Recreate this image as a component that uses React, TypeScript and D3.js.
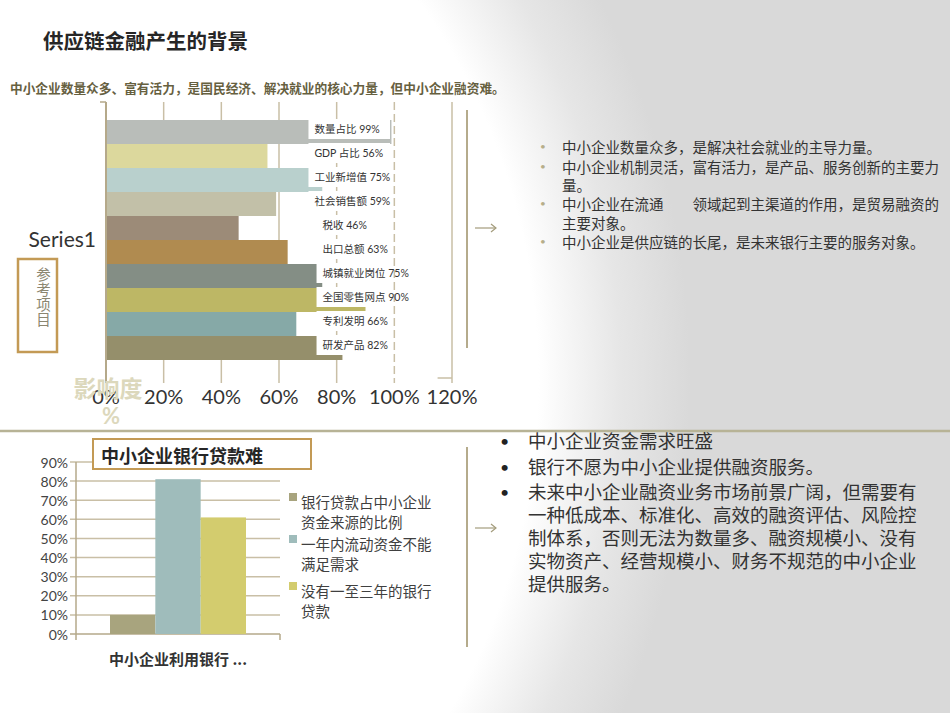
import React from "react";
import * as d3 from "d3";

// top chart: impact of SMEs
const impactItems = ["数量占比", "GDP 占比", "工业新增值", "社会销售额", "税收", "出口总额", "城镇就业岗位", "全国零售网点", "专利发明", "研发产品"];
const impactValues = [99, 56, 75, 59, 46, 63, 75, 90, 66, 82];
const impactColors = ["#b9bdb9", "#dcd89d", "#b9d0cd", "#c2c0a8", "#9c8b78", "#b08b50", "#848e85", "#bdb765", "#86a9a7", "#958f6b"];
const impactTicks = [0, 20, 40, 60, 80, 100, 120];

// bottom chart: bank loans
const loanCategories = ["中小企业利用银行 ..."];
const loanSeries = ["银行贷款占中小企业资金来源的比例", "一年内流动资金不能满足需求", "没有一至三年的银行贷款"];
const loanLegendLines = [["银行贷款占中小企业", "资金来源的比例"], ["一年内流动资金不能", "满足需求"], ["没有一至三年的银行", "贷款"]];
const loanValues = [10, 81, 61];
const loanColors = ["#a8a47e", "#9fbcbb", "#d3cc6e"];
const loanTicks = [0, 10, 20, 30, 40, 50, 60, 70, 80, 90];

const topBullets = [
  ["中小企业数量众多，是解决社会就业的主导力量。"],
  ["中小企业机制灵活，富有活力，是产品、服务创新的主要力", "量。"],
  ["中小企业在流通　　领域起到主渠道的作用，是贸易融资的", "主要对象。"],
  ["中小企业是供应链的长尾，是未来银行主要的服务对象。"],
];
const bottomBullets = [
  ["中小企业资金需求旺盛"],
  ["银行不愿为中小企业提供融资服务。"],
  ["未来中小企业融资业务市场前景广阔，但需要有", "一种低成本、标准化、高效的融资评估、风险控", "制体系，否则无法为数量多、融资规模小、没有", "实物资产、经营规模小、财务不规范的中小企业", "提供服务。"],
];

const CJK = "'Noto Sans CJK SC', 'Noto Sans', sans-serif";
const MIX = "Lato, 'Noto Sans CJK SC', sans-serif";
const GRID = "#c9bfa6";
const AXIS = "#b5a98a";

const App: React.FC = () => {
  const W = 950;
  const H = 713;

  // top chart scales
  const x = d3.scaleLinear().domain([0, 120]).range([106, 452]);
  const y = d3.scaleBand<string>().domain(impactItems).range([102, 378]).paddingInner(0).paddingOuter(0.75);
  const bw = y.bandwidth();

  // bottom chart scales
  const y2 = d3.scaleLinear().domain([0, 90]).range([634, 462]);
  const x0 = d3.scaleBand<string>().domain(loanCategories).range([76, 280]).paddingOuter(0.25);
  const x1 = d3.scaleBand<string>().domain(loanSeries).range([0, x0.bandwidth()]);

  const arrow = (ay: number) => (
    <g stroke="#a39c7c" strokeWidth={1.2} fill="none">
      <path d={`M475,${ay}H496`} />
      <path d={`M491,${ay - 4}L496,${ay}L491,${ay + 4}`} />
    </g>
  );

  return (
    <svg width={W} height={H} style={{ position: "absolute", left: 0, top: 0 }}>
      <defs>
        <radialGradient
          id="bg"
          gradientUnits="userSpaceOnUse"
          cx={0}
          cy={380}
          r={690}
          gradientTransform="translate(0 380) scale(1 1.12) translate(0 -380)"
        >
          <stop offset="0.78" stopColor="#ffffff" />
          <stop offset="0.9" stopColor="#e6e6e6" />
          <stop offset="1" stopColor="#d9d9d9" />
        </radialGradient>
      </defs>
      <rect x={0} y={0} width={W} height={H} fill="url(#bg)" />

      {/* headings */}
      <text x={43} y={40} fontFamily={CJK} fontWeight={700} fontSize={20.5} fill="#262626" dominantBaseline="central">
        供应链金融产生的背景
      </text>
      <text x={10} y={87} fontFamily={CJK} fontWeight={700} fontSize={12.7} fill="#66603f" dominantBaseline="central">
        中小企业数量众多、富有活力，是国民经济、解决就业的核心力量，但中小企业融资难。
      </text>

      {/* top chart grid */}
      {impactTicks.slice(1).map((t) => (
        <line
          key={t}
          x1={x(t)}
          x2={x(t)}
          y1={102}
          y2={383}
          stroke={GRID}
          strokeWidth={1.5}
          strokeDasharray={t === 100 ? "8,4" : undefined}
        />
      ))}
      <line x1={x(115)} x2={x(120)} y1={378} y2={378} stroke={GRID} strokeWidth={1.5} />
      {/* bars */}
      {impactItems.map((d, i) => (
        <rect key={d} x={x(0)} y={y(d)} width={x(impactValues[i]) - x(0)} height={bw} fill={impactColors[i]} />
      ))}
      {/* data labels */}
      {impactItems.map((d, i) => {
        const lx = i < 4 ? x(72.3) : x(75.1);
        const cy = (y(d) as number) + bw / 2 - 3;
        return (
          <g key={d}>
            <rect x={lx - 6} y={cy - 10} width={x(98.5) - lx + 6} height={20} fill="#ffffff" />
            <text x={lx} y={cy} fontFamily={MIX} fontSize={10.5} fill="#333" dominantBaseline="central">
              {`${d} ${impactValues[i]}%`}
            </text>
          </g>
        );
      })}
      {/* category axis */}
      <line x1={x(0)} x2={x(0)} y1={102} y2={383} stroke={AXIS} strokeWidth={2} />
      <line x1={x(0) - 6} x2={x(0)} y1={102} y2={102} stroke={AXIS} strokeWidth={1.5} />
      <text x={96} y={238} textAnchor="end" fontFamily={MIX} fontSize={21} fill="#333" dominantBaseline="central">
        Series1
      </text>
      {impactTicks.map((t) => (
        <text key={t} x={x(t)} y={396} textAnchor="middle" fontFamily={MIX} fontSize={20} fill="#333" dominantBaseline="central">
          {`${t}%`}
        </text>
      ))}
      <text x={108} y={387} textAnchor="middle" fontFamily={CJK} fontWeight={700} fontSize={23} fill="#dcd8bc" dominantBaseline="central">
        影响度
      </text>
      <text x={111} y={415} textAnchor="middle" fontFamily={MIX} fontWeight={700} fontSize={22} fill="#dcd8bc" dominantBaseline="central">
        %
      </text>

      {/* vertical caption box */}
      <rect x={18} y={259} width={39} height={93} fill="none" stroke="#c39a55" strokeWidth={2.5} />
      {["参", "考", "项", "目"].map((c, i) => (
        <text key={c} x={43.5} y={273 + i * 15} textAnchor="middle" fontFamily={CJK} fontSize={14.5} fill="#8b8670" dominantBaseline="central">
          {c}
        </text>
      ))}

      {/* separators */}
      <line x1={467} x2={467} y1={110} y2={348} stroke="#b5ab8c" strokeWidth={2} />
      <line x1={467} x2={467} y1={447} y2={647} stroke="#b5ab8c" strokeWidth={2} />
      <line x1={0} x2={W} y1={431} y2={431} stroke="#b7b396" strokeWidth={2.5} />
      {arrow(228)}
      {arrow(528)}

      {/* top right bullets */}
      {(() => {
        let line = 0;
        const ys = [146, 166, 184, 203, 222, 241];
        return topBullets.map((b, i) => (
          <g key={i}>
            <text x={540} y={ys[line]} fontFamily={MIX} fontSize={10} fill="#b6ae8a" dominantBaseline="central">
              •
            </text>
            {b.map((l) => {
              const yy = ys[line++];
              return (
                <text key={l} x={562} y={yy} fontFamily={CJK} fontSize={14.5} fill="#333" dominantBaseline="central">
                  {l}
                </text>
              );
            })}
          </g>
        ));
      })()}

      {/* bottom right bullets */}
      {(() => {
        let line = 0;
        const ys = [440, 466, 491, 514, 537, 560, 583];
        return bottomBullets.map((b, i) => (
          <g key={i}>
            <text x={500} y={ys[line]} fontFamily={MIX} fontSize={16} fill="#222" dominantBaseline="central">
              •
            </text>
            {b.map((l) => {
              const yy = ys[line++];
              return (
                <text key={l} x={528} y={yy} fontFamily={CJK} fontSize={18.5} fill="#333" dominantBaseline="central">
                  {l}
                </text>
              );
            })}
          </g>
        ));
      })()}

      {/* bottom chart */}
      {loanTicks.map((t) => (
        <g key={t}>
          <line x1={70} x2={280} y1={y2(t)} y2={y2(t)} stroke={t === 0 ? AXIS : GRID} strokeWidth={1.5} />
          <text x={68} y={y2(t)} textAnchor="end" fontFamily={MIX} fontSize={14} fill="#444" dominantBaseline="central">
            {`${t}%`}
          </text>
        </g>
      ))}
      <line x1={76} x2={76} y1={y2(90)} y2={640} stroke={AXIS} strokeWidth={1.5} />
      <line x1={280} x2={280} y1={y2(0)} y2={640} stroke={AXIS} strokeWidth={1.5} />
      {loanCategories.map((c) => (
        <g key={c}>
          {loanSeries.map((s, i) => (
            <rect
              key={s}
              x={(x0(c) as number) + (x1(s) as number)}
              y={y2(loanValues[i])}
              width={x1.bandwidth()}
              height={y2(0) - y2(loanValues[i])}
              fill={loanColors[i]}
            />
          ))}
          <text
            x={(x0(c) as number) + x0.bandwidth() / 2}
            y={658}
            textAnchor="middle"
            fontFamily={CJK}
            fontWeight={700}
            fontSize={15}
            fill="#333"
            dominantBaseline="central"
          >
            {c}
          </text>
        </g>
      ))}
      {/* chart title box */}
      <rect x={93} y={439} width={218} height={30} fill="#ffffff" stroke="#c39a55" strokeWidth={2} />
      <text x={101} y={455} fontFamily={CJK} fontWeight={700} fontSize={18} fill="#262626" dominantBaseline="central">
        中小企业银行贷款难
      </text>
      {/* legend */}
      {loanLegendLines.map((lines, i) => {
        const ly = [501, 543, 590][i];
        return (
          <g key={i}>
            <rect x={289} y={ly - 8} width={8} height={8} fill={loanColors[i]} />
            {lines.map((l, j) => (
              <text key={l} x={301} y={ly + j * 20} fontFamily={CJK} fontSize={14.5} fill="#404040" dominantBaseline="central">
                {l}
              </text>
            ))}
          </g>
        );
      })}
    </svg>
  );
};

export default App;
